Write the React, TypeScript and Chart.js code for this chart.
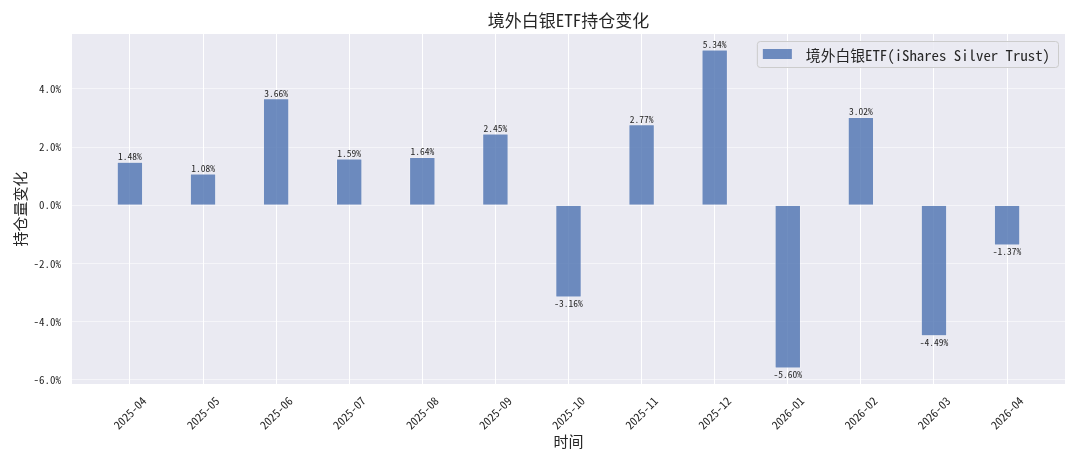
import React, { useEffect, useRef } from 'react';
import { Chart, registerables } from 'chart.js';

Chart.register(...registerables);

const categories = [
  '2025-04', '2025-05', '2025-06', '2025-07', '2025-08', '2025-09', '2025-10',
  '2025-11', '2025-12', '2026-01', '2026-02', '2026-03', '2026-04',
];
const holdingChange = [1.48, 1.08, 3.66, 1.59, 1.64, 2.45, -3.16, 2.77, 5.34, -5.6, 3.02, -4.49, -1.37];
const yTickValues = [-6, -4, -2, 0, 2, 4];
const chartTitle = '境外白银ETF持仓变化';
const seriesName = '境外白银ETF(iShares Silver Trust)';
const xAxisTitle = '时间';
const yAxisTitle = '持仓量变化';

const FONT = "'Noto Sans Mono CJK SC', 'Noto Sans CJK SC', 'DejaVu Sans', sans-serif";
const BAR_COLOR = 'rgba(76,114,176,0.8)';
const BG = '#EAEAF2';
const TEXT = '#262626';
const BAR_W = 0.35;

export default function App() {
  const ref = useRef<HTMLCanvasElement | null>(null);

  useEffect(() => {
    document.body.style.margin = '0';
    const canvas = ref.current;
    if (!canvas) return;

    const dMax = Math.max(...holdingChange);
    const dMin = Math.min(...holdingChange);
    const yM = (dMax - dMin) * 0.05;
    const xLo = -BAR_W / 2;
    const xHi = categories.length - 1 + BAR_W / 2;
    const xM = (xHi - xLo) * 0.05;

    const overlay = {
      id: 'overlay',
      beforeDraw(chart: any) {
        const { ctx, chartArea } = chart;
        ctx.save();
        ctx.fillStyle = BG;
        ctx.fillRect(chartArea.left, chartArea.top, chartArea.right - chartArea.left, chartArea.bottom - chartArea.top);
        ctx.restore();
      },
      afterDatasetsDraw(chart: any) {
        const { ctx } = chart;
        const meta = chart.getDatasetMeta(0);
        ctx.save();
        ctx.font = `9.5px ${FONT}`;
        ctx.fillStyle = TEXT;
        ctx.textAlign = 'center';
        meta.data.forEach((el: any, i: number) => {
          const v = holdingChange[i];
          const txt = v.toFixed(2) + '%';
          if (v >= 0) {
            ctx.textBaseline = 'bottom';
            ctx.fillText(txt, el.x, el.y - 1);
          } else {
            ctx.textBaseline = 'top';
            ctx.fillText(txt, el.x, el.y + 2);
          }
        });
        ctx.restore();
      },
      afterDraw(chart: any) {
        const { ctx, chartArea } = chart;
        const xs = chart.scales.x;
        ctx.save();
        // title
        ctx.font = `17px ${FONT}`;
        ctx.fillStyle = TEXT;
        ctx.textAlign = 'center';
        ctx.textBaseline = 'middle';
        ctx.fillText(chartTitle, (chartArea.left + chartArea.right) / 2, 21);
        // x tick labels
        ctx.font = `11.5px ${FONT}`;
        categories.forEach((c, i) => {
          const px = xs.getPixelForValue(i);
          ctx.save();
          ctx.translate(px, chartArea.bottom + 29);
          ctx.rotate(-Math.PI / 4);
          ctx.textAlign = 'center';
          ctx.textBaseline = 'middle';
          ctx.fillText(c, 0, 0);
          ctx.restore();
        });
        // legend
        ctx.font = `14.8px ${FONT}`;
        const tw = ctx.measureText(seriesName).width;
        const padL = 6, patchW = 29, gap = 14, padR = 8, boxH = 26;
        const boxW = padL + patchW + gap + tw + padR;
        const bx = chartArea.right - 7 - boxW;
        const by = chartArea.top + 7;
        ctx.beginPath();
        if ((ctx as any).roundRect) (ctx as any).roundRect(bx + 0.5, by + 0.5, boxW, boxH, 3);
        else ctx.rect(bx + 0.5, by + 0.5, boxW, boxH);
        ctx.fillStyle = 'rgba(234,234,242,0.85)';
        ctx.fill();
        ctx.strokeStyle = '#cccccc';
        ctx.lineWidth = 1;
        ctx.stroke();
        ctx.fillStyle = BAR_COLOR;
        ctx.fillRect(bx + padL, by + 8, patchW, 10);
        ctx.fillStyle = TEXT;
        ctx.textAlign = 'left';
        ctx.textBaseline = 'middle';
        ctx.fillText(seriesName, bx + padL + patchW + gap, by + boxH / 2 + 1);
        ctx.restore();
      },
    };

    const chart = new Chart(canvas, {
      type: 'bar',
      data: {
        datasets: [
          {
            label: seriesName,
            data: holdingChange.map((v, i) => ({ x: i, y: v })),
            backgroundColor: BAR_COLOR,
            borderColor: 'rgba(255,255,255,0.7)',
            borderWidth: 0.6,
            barPercentage: BAR_W,
            categoryPercentage: 1,
          },
        ],
      },
      options: {
        animation: false,
        responsive: true,
        maintainAspectRatio: false,
        layout: { padding: { left: 0, right: 15, top: 34, bottom: 0 } },
        plugins: {
          legend: { display: false },
          tooltip: { enabled: false },
          title: { display: false },
        },
        scales: {
          x: {
            type: 'linear',
            min: xLo - xM,
            max: xHi + xM,
            offset: false,
            afterBuildTicks: (s: any) => {
              s.ticks = categories.map((_, i) => ({ value: i }));
            },
            afterFit: (s: any) => {
              s.height = 79;
            },
            ticks: { display: false, includeBounds: false },
            grid: { color: '#ffffff', lineWidth: 1, drawTicks: false, offset: false },
            border: { display: false },
            title: {
              display: true,
              text: xAxisTitle,
              color: TEXT,
              font: { family: FONT, size: 15 },
              padding: { top: 4, bottom: 13 },
            },
          },
          y: {
            type: 'linear',
            min: dMin - yM,
            max: dMax + yM,
            afterBuildTicks: (s: any) => {
              s.ticks = yTickValues.map((v) => ({ value: v }));
            },
            afterFit: (s: any) => {
              s.width = 72;
            },
            ticks: {
              includeBounds: false,
              padding: 11,
              color: TEXT,
              font: { family: FONT, size: 11 },
              callback: (v: any) => Number(v).toFixed(1) + '%',
            },
            grid: { color: 'rgba(255,255,255,0.5)', lineWidth: 1, drawTicks: false },
            border: { display: false },
            title: {
              display: true,
              text: yAxisTitle,
              color: TEXT,
              font: { family: FONT, size: 15 },
              padding: { top: 11, bottom: 4 },
            },
          },
        },
      },
      plugins: [overlay],
    });

    return () => chart.destroy();
  }, []);

  return (
    <div style={{ width: '1080px', height: '463px', position: 'relative' }}>
      <canvas ref={ref} />
    </div>
  );
}
